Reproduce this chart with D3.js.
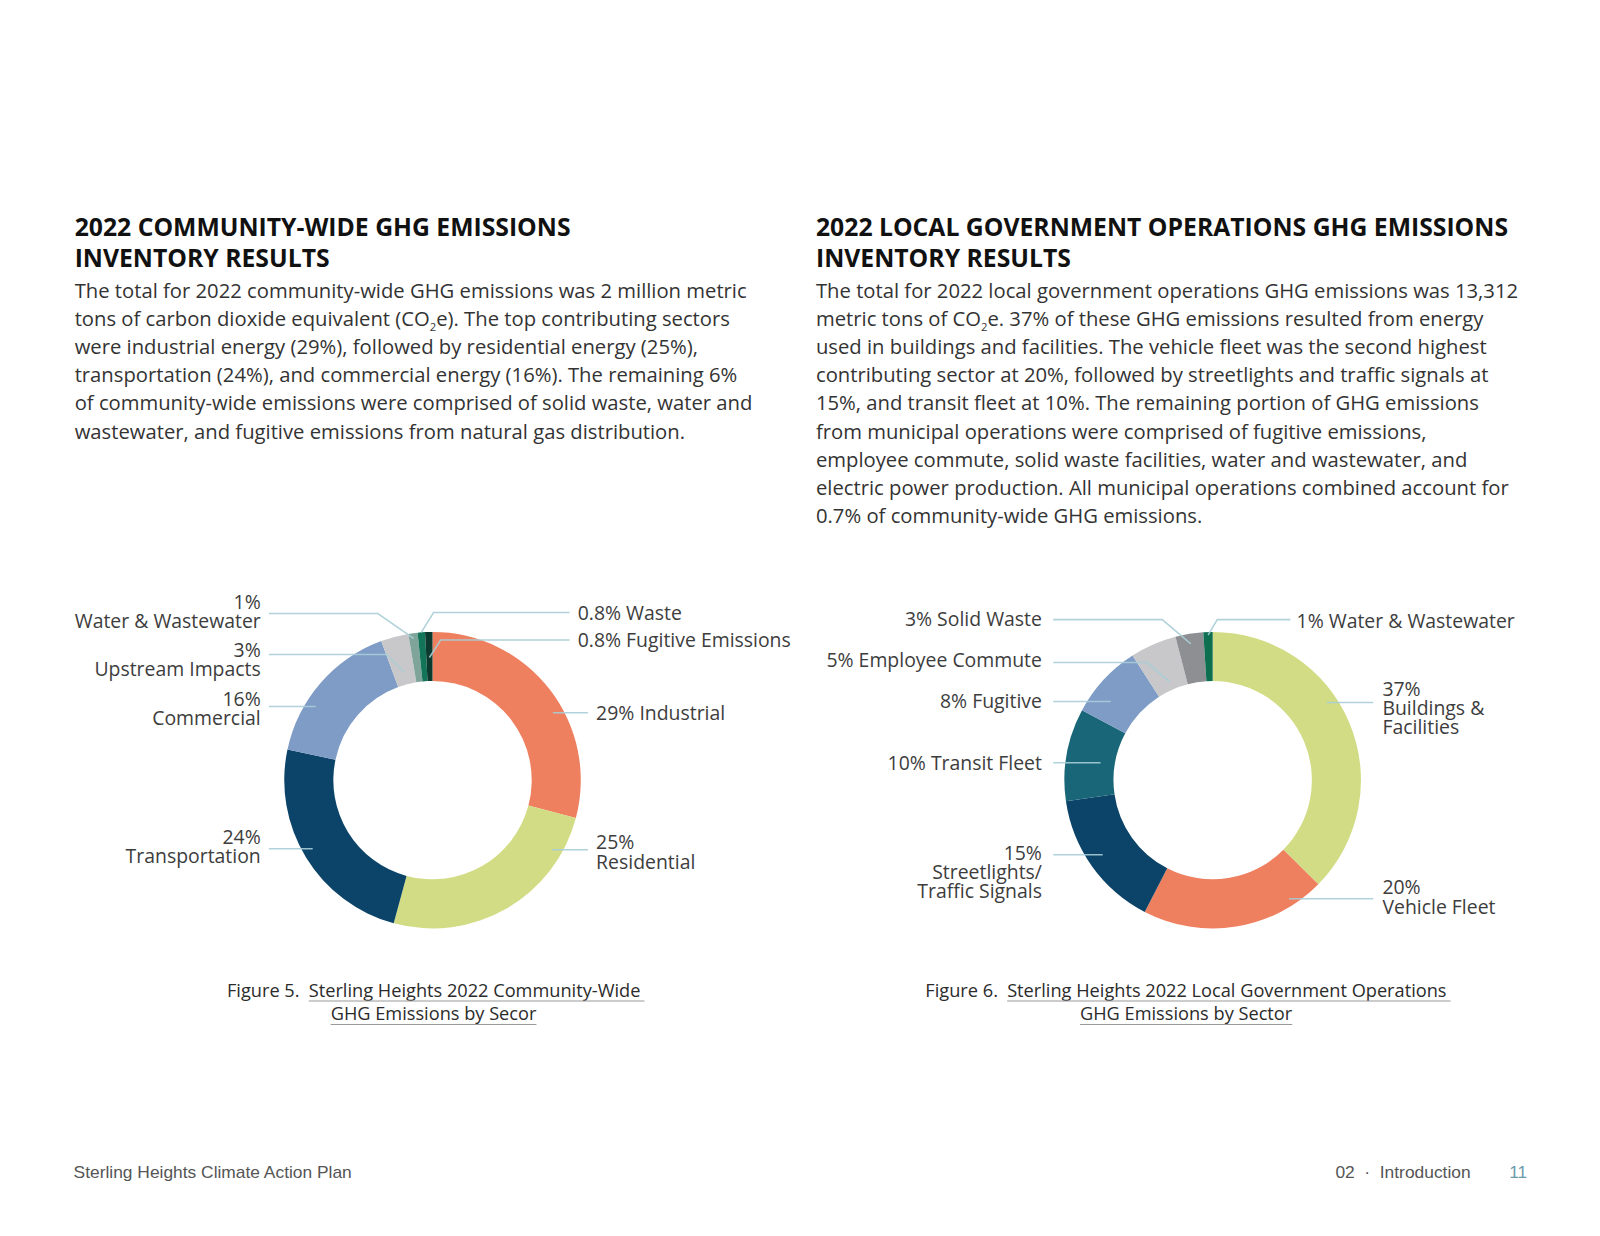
<!DOCTYPE html>
<html>
<head>
<meta charset="utf-8">
<script src="https://cdn.jsdelivr.net/npm/d3@7"></script>
<style>
  html, body { margin: 0; padding: 0; background: #fff; }
  svg { display: block; }
</style>
</head>
<body>
<div id="page"></div>
<script>
/////////////////////
// Data read off the two donuts
/////////////////////
const communitySectors = ["Industrial", "Residential", "Transportation", "Commercial",
  "Upstream Impacts", "Water & Wastewater", "Waste", "Fugitive Emissions"];
const communityValues = [29, 25, 24, 16, 3, 1, 0.8, 0.8];
const communityColors = ["#ee7f5f", "#d2dc84", "#0b4468", "#7e9cc5", "#c8c8ca", "#7fa59b", "#127458", "#0c3a2e"];

const governmentSectors = ["Buildings &\nFacilities", "Vehicle Fleet", "Streetlights/\nTraffic Signals", "Transit Fleet",
  "Fugitive", "Employee Commute", "Solid Waste", "Water & Wastewater"];
const governmentValues = [37, 20, 15, 10, 8, 5, 3, 1];
const governmentColors = ["#d2dc84", "#ee7f5f", "#0b4468", "#196679", "#7e9cc5", "#c8c8ca", "#8e8f92", "#0e6e50"];

// text blocks
const communityTitle = ["2022 COMMUNITY-WIDE GHG EMISSIONS", "INVENTORY RESULTS"];
const communityBody = [
  "The total for 2022 community-wide GHG emissions was 2 million metric",
  "tons of carbon dioxide equivalent (CO{2}e). The top contributing sectors",
  "were industrial energy (29%), followed by residential energy (25%),",
  "transportation (24%), and commercial energy (16%). The remaining 6%",
  "of community-wide emissions were comprised of solid waste, water and",
  "wastewater, and fugitive emissions from natural gas distribution."
];
const governmentTitle = ["2022 LOCAL GOVERNMENT OPERATIONS GHG EMISSIONS", "INVENTORY RESULTS"];
const governmentBody = [
  "The total for 2022 local government operations GHG emissions was 13,312",
  "metric tons of CO{2}e. 37% of these GHG emissions resulted from energy",
  "used in buildings and facilities. The vehicle fleet was the second highest",
  "contributing sector at 20%, followed by streetlights and traffic signals at",
  "15%, and transit fleet at 10%. The remaining portion of GHG emissions",
  "from municipal operations were comprised of fugitive emissions,",
  "employee commute, solid waste facilities, water and wastewater, and",
  "electric power production. All municipal operations combined account for",
  "0.7% of community-wide GHG emissions."
];
const communityCaption = ["Figure 5.", "Sterling Heights 2022 Community-Wide", "GHG Emissions by Secor"];
const governmentCaption = ["Figure 6.", "Sterling Heights 2022 Local Government Operations", "GHG Emissions by Sector"];

/////////////////////
// Label layout (offsets from donut centre)
/////////////////////
const communityLabelLayout = [
  { side: "R", tx: 160, ty: -66, lx: 152, ly: -66, mode: "inline", leader: "h", r: 135 },
  { side: "R", tx: 160, ty: 61, lx: 152, ly: 68, mode: "stack", leader: "h", r: 135 },
  { side: "L", tx: -168, ty: 56, lx: -160, ly: 67, mode: "stack", leader: "h", r: 135 },
  { side: "L", tx: -168, ty: -79, lx: -160, ly: -72, mode: "stack", leader: "h", r: 135 },
  { side: "L", tx: -168, ty: -127, lx: -160, ly: -123, mode: "stack", leader: "e", r: 110, ex: 17 },
  { side: "L", tx: -168, ty: -174, lx: -160, ly: -163, mode: "stack", leader: "e", r: 140, ex: 35 },
  { side: "R", tx: 142, ty: -163, lx: 134, ly: -164, mode: "inline", leader: "e", r: 145, ex: 12 },
  { side: "R", tx: 142, ty: -137, lx: 134, ly: -137, mode: "inline", leader: "e", r: 120, ex: 11 }
];
const governmentLabelLayout = [
  { side: "R", tx: 166, ty: -89, lx: 157, ly: -76, mode: "stack", leader: "h", r: 135 },
  { side: "R", tx: 166, ty: 105, lx: 157, ly: 116, mode: "stack", leader: "h", r: 138 },
  { side: "L", tx: -167, ty: 71, lx: -156, ly: 73, mode: "stack", leader: "h", r: 130 },
  { side: "L", tx: -167, ty: -17, lx: -156, ly: -17, mode: "inline", leader: "h", r: 111 },
  { side: "L", tx: -167, ty: -77, lx: -156, ly: -77, mode: "inline", leader: "h", r: 126 },
  { side: "L", tx: -167, ty: -117, lx: -156, ly: -115, mode: "inline", leader: "e", r: 105, ex: 22 },
  { side: "L", tx: -167, ty: -158, lx: -156, ly: -157, mode: "inline", leader: "e", r: 135, ex: 28 },
  { side: "R", tx: 82, ty: -156, lx: 76, ly: -157, mode: "inline", leader: "e", r: 142, ex: 9 }
];

function draw() {
  const W = 1600, H = 1236;
  const svgRoot = d3.select("#page").append("svg")
    .attr("width", W).attr("height", H)
    .attr("viewBox", `0 0 ${W} ${H}`);

  svgRoot.append("rect").attr("width", W).attr("height", H).attr("fill", "#fff");

  // page content laid out on a slightly smaller grid
  const svg = svgRoot.append("g").attr("transform", "scale(1.0225)");
  const font = "'Open Sans', sans-serif";

  ////////////////////
  // Heading + paragraph text
  ////////////////////
  function textBlock(x, title, body) {
    const g = svg.append("g").attr("transform", `translate(${x},0)`);
    g.selectAll("text.title")
      .data(title)
      .join("text")
      .attr("class", "title")
      .attr("y", (d, i) => 231 + i * 30)
      .attr("font-family", font)
      .attr("font-weight", 700)
      .attr("font-size", 24.2)
      .attr("fill", "#111")
      .text(d => d);

    body.forEach((line, i) => {
      const t = g.append("text")
        .attr("y", 291 + i * 27.6)
        .attr("font-family", font)
        .attr("font-size", 19.8)
        .attr("fill", "#333");
      const parts = line.split("{2}");
      parts.forEach((p, j) => {
        t.append("tspan").text(p);
        if (j < parts.length - 1) {
          t.append("tspan").attr("font-size", 11).attr("baseline-shift", -5).text("2");
        }
      });
    });
  }
  textBlock(73, communityTitle, communityBody);
  textBlock(798, governmentTitle, governmentBody);

  ////////////////////
  // Donuts
  ////////////////////
  const outerR = 145, innerR = 97;
  const pie = d3.pie().sort(null).value(d => d.value);
  const arc = d3.arc().innerRadius(innerR).outerRadius(outerR);

  function donut(cx, cy, sectors, values, colors, layout) {
    const data = sectors.map((s, i) => ({ name: s, value: values[i], color: colors[i], lay: layout[i] }));
    const arcs = pie(data);
    const g = svg.append("g").attr("transform", `translate(${cx},${cy})`);

    g.selectAll("path.slice")
      .data(arcs)
      .join("path")
      .attr("class", "slice")
      .attr("fill", d => d.data.color)
      .attr("d", arc);

    // leader lines
    g.selectAll("path.leader")
      .data(arcs)
      .join("path")
      .attr("class", "leader")
      .attr("fill", "none")
      .attr("stroke", "#a9cdd6")
      .attr("stroke-opacity", 0.9)
      .attr("stroke-width", 1.5)
      .attr("d", d => {
        const L = d.data.lay;
        const sgn = L.side === "R" ? 1 : -1;
        if (L.leader === "h") {
          const ex = sgn * Math.sqrt(L.r * L.r - L.ly * L.ly);
          return d3.line()([[L.lx, L.ly], [ex, L.ly]]);
        }
        const a = (d.startAngle + d.endAngle) / 2;
        const end = [L.r * Math.sin(a), -L.r * Math.cos(a)];
        const elbow = [end[0] + sgn * L.ex, L.ly];
        return d3.line()([[L.lx, L.ly], elbow, end]);
      });

    // labels
    const lab = g.selectAll("text.lab")
      .data(arcs)
      .join("text")
      .attr("class", "lab")
      .attr("font-family", font)
      .attr("font-size", 19)
      .attr("fill", "#3d3d3d")
      .attr("text-anchor", d => d.data.lay.side === "R" ? "start" : "end")
      .attr("transform", d => `translate(${d.data.lay.tx},${d.data.lay.ty + 6.8})`);

    lab.each(function(d) {
      const pct = `${d.data.value}%`;
      const L = d.data.lay;
      const lines = L.mode === "inline"
        ? [`${pct} ${d.data.name.replace("\n", " ")}`]
        : [pct, ...d.data.name.split("\n")];
      d3.select(this).selectAll("tspan")
        .data(lines)
        .join("tspan")
        .attr("x", 0)
        .attr("y", (s, i) => i * 18.6)
        .text(s => s);
    });
  }

  donut(423, 763, communitySectors, communityValues, communityColors, communityLabelLayout);
  donut(1186, 763, governmentSectors, governmentValues, governmentColors, governmentLabelLayout);

  ////////////////////
  // Figure captions
  ////////////////////
  function caption(x, y, centreX, parts) {
    const t1 = svg.append("text").attr("x", x).attr("y", y)
      .attr("font-family", font).attr("font-size", 17.8).attr("fill", "#2b2b2b")
      .text(parts[0]);
    const w1 = t1.node().getComputedTextLength();
    const x2 = x + w1 + 9;
    const t2 = svg.append("text").attr("x", x2).attr("y", y)
      .attr("font-family", font).attr("font-size", 17.8).attr("fill", "#2b2b2b")
      .text(parts[1]);
    const w2 = t2.node().getComputedTextLength();
    svg.append("line").attr("x1", x2).attr("x2", x2 + w2 + 4)
      .attr("y1", y + 4).attr("y2", y + 4)
      .attr("stroke", "#9a9a9a").attr("stroke-width", 1);
    const t3 = svg.append("text").attr("x", centreX).attr("y", y + 23)
      .attr("text-anchor", "middle")
      .attr("font-family", font).attr("font-size", 17.8).attr("fill", "#2b2b2b")
      .text(parts[2]);
    const w3 = t3.node().getComputedTextLength();
    svg.append("line").attr("x1", centreX - w3 / 2).attr("x2", centreX + w3 / 2)
      .attr("y1", y + 27).attr("y2", y + 27)
      .attr("stroke", "#9a9a9a").attr("stroke-width", 1);
  }
  caption(222, 975, 424, communityCaption);
  caption(905, 975, 1160, governmentCaption);

  ////////////////////
  // Footer
  ////////////////////
  const foot = "'Liberation Sans', Arial, sans-serif";
  svg.append("text").attr("x", 72).attr("y", 1152)
    .attr("font-family", foot).attr("font-size", 17).attr("fill", "#555")
    .text("Sterling Heights Climate Action Plan");
  svg.append("text").attr("x", 1306).attr("y", 1152)
    .attr("font-family", foot).attr("font-size", 17).attr("fill", "#555")
    .attr("xml:space", "preserve")
    .text("02  ·  Introduction");
  svg.append("text").attr("x", 1476).attr("y", 1152)
    .attr("font-family", foot).attr("font-size", 17).attr("fill", "#6b9aab")
    .text("11");
}

draw();
</script>
</body>
</html>
